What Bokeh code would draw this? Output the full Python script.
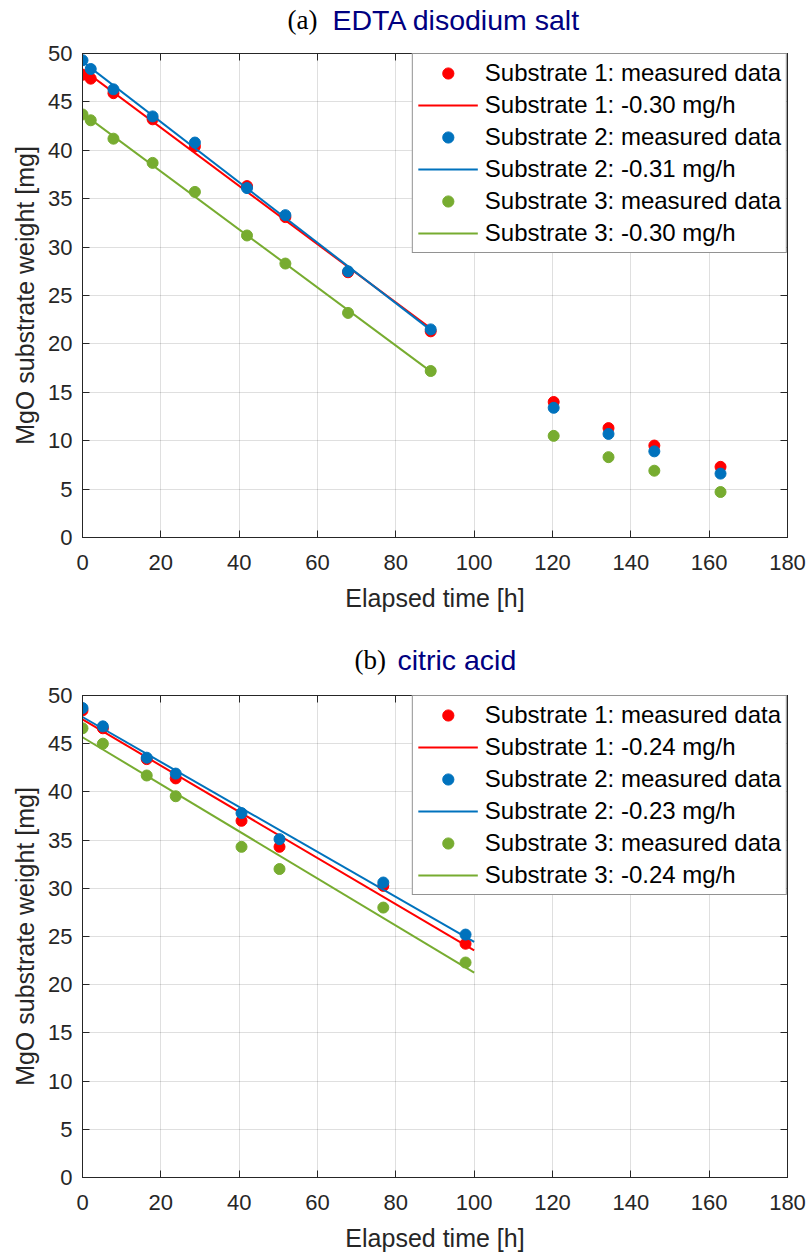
import numpy as np
from bokeh.plotting import figure
from bokeh.layouts import column
from bokeh.models import (Range1d, LinearAxis, Legend, LegendItem,
                          FixedTicker, CustomJSTickFormatter)
from bokeh.core.properties import value
from bokeh.embed import file_html
from bokeh.resources import INLINE

# ---------------- data ----------------
# (a) EDTA disodium salt
time_a = [0, 2.1, 7.9, 17.9, 28.7, 42.0, 51.8, 67.8, 88.9, 120.3, 134.3, 146.0, 162.9]
sub1_a = [47.8, 47.4, 45.9, 43.2, 40.4, 36.3, 33.1, 27.4, 21.3, 14.0, 11.3, 9.5, 7.3]
sub2_a = [49.3, 48.4, 46.3, 43.5, 40.8, 36.1, 33.3, 27.5, 21.5, 13.4, 10.7, 8.9, 6.6]
sub3_a = [43.7, 43.1, 41.2, 38.7, 35.7, 31.2, 28.3, 23.2, 17.2, 10.5, 8.3, 6.9, 4.7]
fit_points_a = 9          # points used in the linear fit
fit_range_a = [0, 90]     # time span of fitted lines
rates_a = ["-0.30", "-0.31", "-0.30"]

# (b) citric acid
time_b = [0, 5.2, 16.4, 23.8, 40.6, 50.3, 76.8, 97.8]
sub1_b = [48.45, 46.6, 43.4, 41.4, 37.0, 34.3, 30.25, 24.25]
sub2_b = [48.7, 46.8, 43.55, 41.9, 37.8, 35.1, 30.6, 25.2]
sub3_b = [46.6, 45.0, 41.7, 39.55, 34.3, 32.0, 28.0, 22.3]
fit_points_b = 8
fit_range_b = [0, 100]
rates_b = ["-0.24", "-0.23", "-0.24"]

x_ticks = [0, 20, 40, 60, 80, 100, 120, 140, 160, 180]
y_ticks = [0, 5, 10, 15, 20, 25, 30, 35, 40, 45, 50]
colors = ["#FF0000", "#0072BD", "#77AC30"]

AX = "#262626"
SANS = "Liberation Sans"
W = 808
BL, BR = 82, 21   # left / right borders -> frame from 82 to 787


def make_title(tag, name, tag_x, name_x):
    # title strip; its frame spans page x 82..787
    t = figure(width=W, height=40, output_backend="svg", toolbar_location=None,
               x_range=Range1d(BL, W - BR), y_range=Range1d(0, 40),
               x_axis_type=None, y_axis_type=None,
               min_border_left=BL, min_border_right=BR,
               min_border_top=0, min_border_bottom=0)
    t.outline_line_color = None
    t.background_fill_color = "white"
    t.border_fill_color = "white"
    t.grid.visible = False
    t.text(x=[tag_x], y=[21], text=[tag], text_font=value("Liberation Serif"),
           text_font_size="27px", text_color="#000000", text_align="left",
           text_baseline="middle")
    t.text(x=[name_x], y=[21], text=[name], text_font=value(SANS),
           text_font_size="28.5px", text_color="#000080", text_align="left",
           text_baseline="middle")
    return t


def make_panel(t, series, nfit, frange, rates, height, btop, bbottom):
    p = figure(width=W, height=height, output_backend="svg", toolbar_location=None,
               x_range=Range1d(0, 180), y_range=Range1d(0, 50),
               min_border_left=BL, min_border_right=BR,
               min_border_top=btop, min_border_bottom=bbottom)
    p.outline_line_color = AX
    p.outline_line_width = 1
    p.background_fill_color = "white"
    p.border_fill_color = "white"

    # grid
    p.xgrid.ticker = FixedTicker(ticks=x_ticks)
    p.ygrid.ticker = FixedTicker(ticks=y_ticks)
    for g in (p.xgrid, p.ygrid):
        g.grid_line_color = AX
        g.grid_line_alpha = 0.15
        g.grid_line_width = 1

    # main axes
    xa = p.xaxis[0]
    ya = p.yaxis[0]
    xa.ticker = FixedTicker(ticks=x_ticks)
    ya.ticker = FixedTicker(ticks=y_ticks)
    xa.axis_label = "Elapsed time [h]"
    ya.axis_label = "MgO substrate weight [mg]"
    for a in (xa, ya):
        a.axis_line_color = AX
        a.major_tick_line_color = AX
        a.major_tick_in = 7
        a.major_tick_out = 0
        a.minor_tick_line_color = None
        a.major_label_text_font = SANS
        a.major_label_text_font_size = "22px"
        a.major_label_text_color = AX
        a.axis_label_text_font = SANS
        a.axis_label_text_font_size = "25px"
        a.axis_label_text_font_style = "normal"
        a.axis_label_text_color = AX
    xa.major_label_standoff = 17
    xa.axis_label_standoff = 11
    ya.major_label_standoff = 10
    ya.axis_label_standoff = 6

    # box ticks on top and right
    empty = CustomJSTickFormatter(code="return ''")
    top = LinearAxis(ticker=FixedTicker(ticks=x_ticks), formatter=empty)
    right = LinearAxis(ticker=FixedTicker(ticks=y_ticks), formatter=empty)
    for a in (top, right):
        a.axis_line_color = AX
        a.major_tick_line_color = AX
        a.major_tick_in = 7
        a.major_tick_out = 0
        a.minor_tick_line_color = None
        a.major_label_text_font_size = "1px"
        a.major_label_standoff = 0
    p.add_layout(top, "above")
    p.add_layout(right, "right")

    items = []
    for i, (y, c) in enumerate(zip(series, colors)):
        r_pts = p.scatter(t, y, size=11, fill_color=c, line_color=c, marker="circle")
        coef = np.polyfit(t[:nfit], y[:nfit], 1)
        fx = np.array(frange, dtype=float)
        r_line = p.line(fx, np.polyval(coef, fx), line_color=c, line_width=2)
        items.append(LegendItem(label=f"Substrate {i+1}: measured data", renderers=[r_pts]))
        items.append(LegendItem(label=f"Substrate {i+1}: {rates[i]} mg/h", renderers=[r_line]))

    leg = Legend(items=items, location="top_right", margin=0, padding=5,
                 spacing=4, glyph_width=60, glyph_height=28, label_height=28,
                 label_standoff=7, label_text_font=SANS, label_text_font_size="24px",
                 label_text_color="#000000", border_line_color=AX, border_line_width=1,
                 background_fill_color="white", background_fill_alpha=1.0)
    p.add_layout(leg)
    return p


t1 = make_title("(a)", "EDTA disodium salt", 287, 332)
p1 = make_panel(time_a, [sub1_a, sub2_a, sub3_a], fit_points_a, fit_range_a, rates_a,
                600, 13, 103)
t2 = make_title("(b)", "citric acid", 354, 397)
p2 = make_panel(time_b, [sub1_b, sub2_b, sub3_b], fit_points_b, fit_range_b, rates_b,
                574, 15, 76)

layout = column(t1, p1, t2, p2, spacing=0)
open("out.html", "w").write(file_html(layout, INLINE))
